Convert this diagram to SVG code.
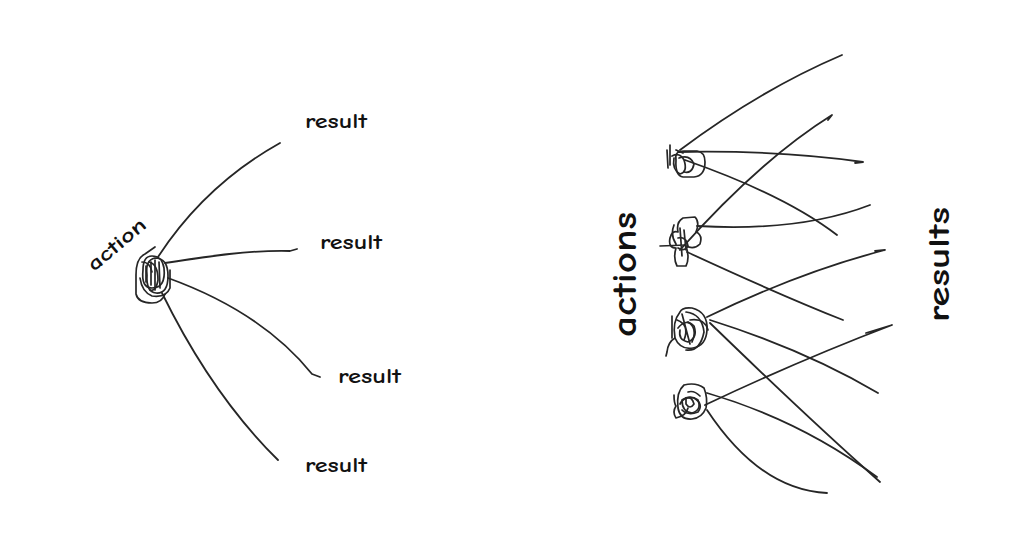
<svg xmlns="http://www.w3.org/2000/svg" width="1024" height="558" viewBox="0 0 1024 558">
<style>
.ln{fill:none;stroke:#262626;stroke-width:1.8;stroke-linecap:round;stroke-linejoin:round}
.sc{fill:none;stroke:#262626;stroke-width:1.7;stroke-linecap:round;stroke-linejoin:round}
.t{font-family:"Comic Neue","Noto Sans","Liberation Sans",sans-serif;font-weight:bold;fill:#111}
</style>
<rect width="1024" height="558" fill="#fff"/>
<g id="connectors">
<path class="ln" d="M158,257 Q205,185 280,143"/>
<path class="ln" d="M165,263 C210,256 250,250 290,251 L297,249"/>
<path class="ln" d="M168,278 Q262,312 312,374 L320,377"/>
<path class="ln" d="M162,293 Q212,395 278,460"/>
<path class="ln" d="M680,150 Q760,90 842,55"/>
<path class="ln" d="M678,152 Q780,150 863,162 L855,163"/>
<path class="ln" d="M685,160 Q785,195 837,235"/>
<path class="ln" d="M680,250 Q760,160 832,115 L828,120"/>
<path class="ln" d="M697,226 Q800,232 870,205"/>
<path class="ln" d="M687,252 Q780,295 843,320"/>
<path class="ln" d="M707,317 Q800,272 885,250 L875,251"/>
<path class="ln" d="M710,320 Q805,350 878,393"/>
<path class="ln" d="M710,323 Q810,420 880,482"/>
<path class="ln" d="M705,405 Q800,360 892,325 L866,333"/>
<path class="ln" d="M707,393 Q800,420 877,477"/>
<path class="ln" d="M707,410 Q760,490 827,493"/>
</g>
<g id="action-left">
<path class="sc" d="M155,247 L145,254 Q136,258 136,275 L136,294 Q138,303 152,303 Q162,303 165,294"/>
<path class="sc" d="M143,270 Q143,256 152,256 Q162,256 164,268 Q166,288 152,288 Q141,288 143,270 Z"/>
<path class="sc" d="M147,275 Q145,260 155,258 Q168,258 168,276 Q168,294 156,293 Q146,292 147,275 Z"/>
<path class="sc" d="M151,262 L151,285 M155,260 L155,290 M159,262 L160,288 M146,266 L146,282"/>
<path class="sc" d="M140,278 Q142,292 152,296 Q166,298 170,288 L170,270"/>
<path class="sc" d="M149,262 Q158,264 158,280 Q156,292 150,290 M142,262 Q150,262 152,272"/>
<text class="t" font-size="20" textLength="70" lengthAdjust="spacingAndGlyphs" transform="translate(94,272) rotate(-40)">action</text>
</g>
<g id="result-1"><text class="t" x="305" y="128" font-size="20" textLength="62" lengthAdjust="spacingAndGlyphs">result</text></g>
<g id="result-2"><text class="t" x="320" y="249" font-size="20" textLength="62" lengthAdjust="spacingAndGlyphs">result</text></g>
<g id="result-3"><text class="t" x="338" y="383" font-size="20" textLength="63" lengthAdjust="spacingAndGlyphs">result</text></g>
<g id="result-4"><text class="t" x="305" y="472" font-size="20" textLength="62" lengthAdjust="spacingAndGlyphs">result</text></g>
<g id="action-1">
<path class="sc" d="M676,160 Q674,151 684,151 L697,151 Q705,152 705,162 Q705,176 694,177 L683,177 Q675,176 676,160 Z"/>
<path class="sc" d="M670,145 L670,165 M667,150 L668,168 M672,156 Q680,152 684,160 Q688,172 680,174 Q672,170 674,158"/>
<path class="sc" d="M676,150 L683,153 M679,158 Q690,154 694,164 Q692,174 684,172"/>
</g>
<g id="action-2">
<path class="sc" d="M683,218 L695,217 Q700,222 696,232 Q703,235 700,244 Q694,250 686,246 Q690,258 686,266 L677,266 Q673,258 676,248 Q668,248 670,238 Q672,230 678,232 Q676,222 683,218 Z"/>
<path class="sc" d="M660,246 L686,245 M680,228 L682,256 M674,225 Q670,235 676,244"/>
<path class="sc" d="M678,238 Q686,236 688,246 Q684,252 678,248 M684,230 L686,250"/>
</g>
<g id="action-3">
<path class="sc" d="M680,312 Q682,307 692,308 Q708,312 707,330 Q706,346 693,348 Q680,350 675,338 Q672,322 680,312 Z"/>
<path class="sc" d="M686,312 Q702,314 704,332 Q700,352 686,350"/>
<path class="sc" d="M672,316 L672,338 M677,320 Q690,325 684,340 M682,314 L690,344 M688,322 Q698,328 692,342"/>
<path class="sc" d="M675,338 Q668,342 667,352 L666,356"/>
<path class="sc" d="M690,320 Q705,318 708,330 M678,328 Q686,318 694,326 Q698,338 688,342 Q678,340 680,330"/>
</g>
<g id="action-4">
<path class="sc" d="M684,385 Q696,382 704,388 Q708,398 706,408 Q702,418 692,419 Q680,420 678,408 Q676,392 684,385 Z"/>
<path class="sc" d="M674,395 Q674,403 676,406 Q672,412 676,418 Q686,416 688,408"/>
<path class="sc" d="M682,400 Q690,394 698,400 Q702,410 692,413 Q682,412 682,400 Z"/>
<path class="sc" d="M686,398 Q692,396 694,404 Q690,410 686,404 Z M688,392 Q694,390 700,396"/>
<path class="sc" d="M680,404 Q684,396 694,398 Q704,404 698,412 Q688,416 682,410"/>
</g>
<text class="t" font-size="34" textLength="125" lengthAdjust="spacingAndGlyphs" transform="translate(636,337) rotate(-90)">actions</text>
<text class="t" font-size="30" textLength="115" lengthAdjust="spacingAndGlyphs" transform="translate(949,322) rotate(-90)">results</text>
</svg>
